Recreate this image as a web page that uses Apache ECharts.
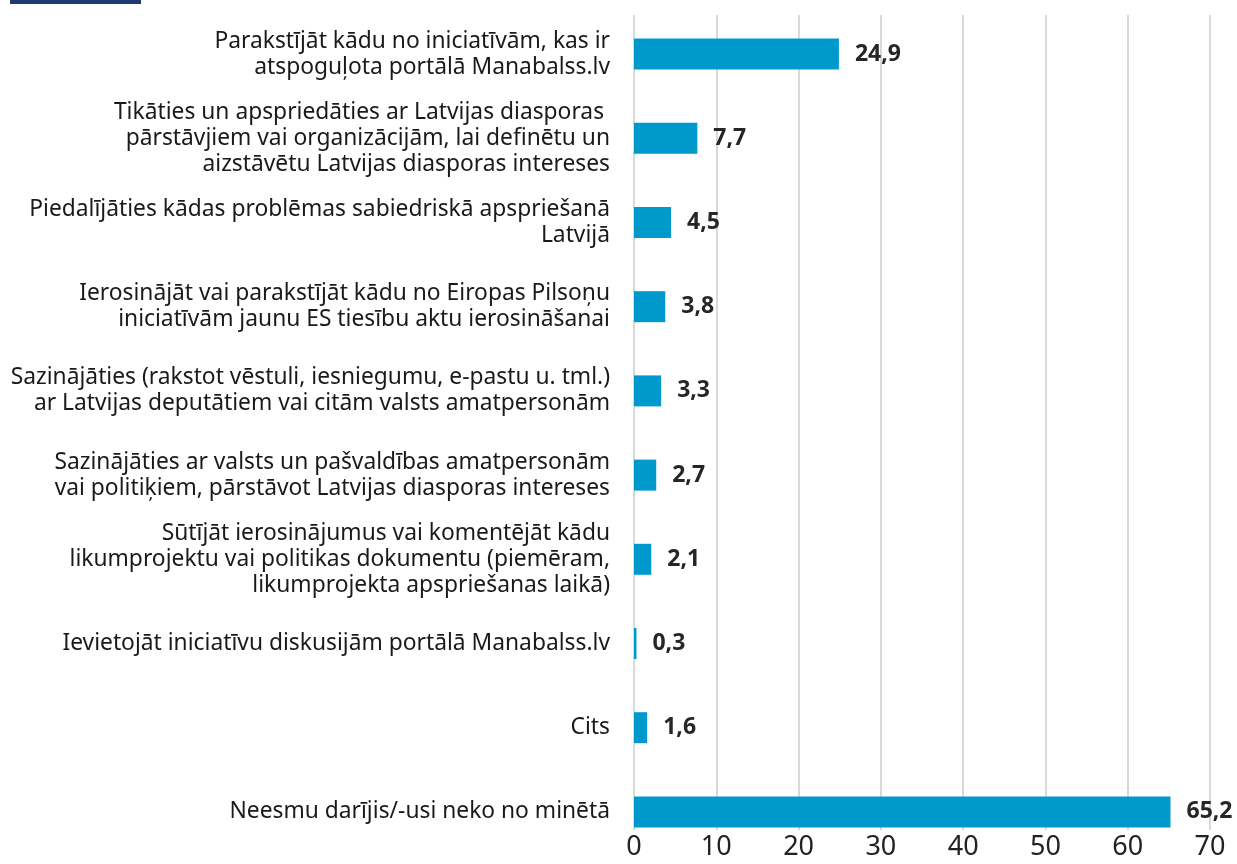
<!DOCTYPE html>
<html>
<head>
<meta charset="utf-8">
<script src="https://cdn.jsdelivr.net/npm/echarts@6/dist/echarts.min.js"></script>
<style>
  html, body { margin: 0; padding: 0; background: #fff; }
  #chart { width: 1237px; height: 864px; }
  .mark { position: absolute; left: 10px; top: 0; width: 131px; height: 4px; background: #1f3a73; }
</style>
</head>
<body>
<div class="mark"></div>
<div id="chart"></div>
<script>
// atbilžu varianti (no augšas uz leju)
const categories = [
  'Parakstījāt kādu no iniciatīvām, kas ir\natspoguļota portālā Manabalss.lv',
  'Tikāties un apspriedāties ar Latvijas diasporas \npārstāvjiem vai organizācijām, lai definētu un\naizstāvētu Latvijas diasporas intereses',
  'Piedalījāties kādas problēmas sabiedriskā apspriešanā\nLatvijā',
  'Ierosinājāt vai parakstījāt kādu no Eiropas Pilsoņu\niniciatīvām jaunu ES tiesību aktu ierosināšanai',
  'Sazinājāties (rakstot vēstuli, iesniegumu, e-pastu u. tml.)\nar Latvijas deputātiem vai citām valsts amatpersonām',
  'Sazinājāties ar valsts un pašvaldības amatpersonām\nvai politiķiem, pārstāvot Latvijas diasporas intereses',
  'Sūtījāt ierosinājumus vai komentējāt kādu\nlikumprojektu vai politikas dokumentu (piemēram,\nlikumprojekta apspriešanas laikā)',
  'Ievietojāt iniciatīvu diskusijām portālā Manabalss.lv',
  'Cits',
  'Neesmu darījis/-usi neko no minētā'
]
const values = [24.9, 7.7, 4.5, 3.8, 3.3, 2.7, 2.1, 0.3, 1.6, 65.2]
const xTicks = [0, 10, 20, 30, 40, 50, 60, 70]

const FONT = '"Noto Sans", sans-serif'

const chart = echarts.init(document.getElementById('chart'))

chart.setOption({
  animation: false,
  grid: [
    // bars
    { left: 634, right: 27, top: 12, height: 842 },
    // axis with gridlines (shorter than the band area)
    { left: 634, right: 27, top: 15, height: 815 }
  ],
  xAxis: [
    {
      type: 'value', gridIndex: 0, min: 0, max: 70, interval: 10,
      show: false
    },
    {
      type: 'value', gridIndex: 1, min: xTicks[0], max: xTicks[xTicks.length - 1], interval: 10,
      axisLine: { show: false },
      axisTick: { show: false },
      splitLine: { show: true, lineStyle: { color: '#d9d9d9', width: 2 } },
      axisLabel: { color: '#222', fontSize: 27, fontFamily: FONT, margin: 4 }
    }
  ],
  yAxis: [
    {
      type: 'category', gridIndex: 0, data: categories, inverse: true,
      axisLine: { show: false },
      axisTick: { show: false },
      axisLabel: {
        color: '#1a1a1a', fontSize: 22.8, fontFamily: FONT,
        lineHeight: 26, align: 'right', margin: 24
      }
    },
    {
      type: 'category', gridIndex: 1, data: categories, show: false
    }
  ],
  series: [
    {
      type: 'bar',
      xAxisIndex: 0,
      yAxisIndex: 0,
      data: values,
      barWidth: 31,
      itemStyle: { color: '#0099cc' },
      label: {
        show: true,
        position: 'right',
        distance: 16,
        color: '#262626',
        fontSize: 23,
        fontWeight: 'bold',
        fontFamily: '"Open Sans", sans-serif',
        formatter: p => p.value.toFixed(1).replace('.', ',')
      }
    }
  ]
})
</script>
</body>
</html>
